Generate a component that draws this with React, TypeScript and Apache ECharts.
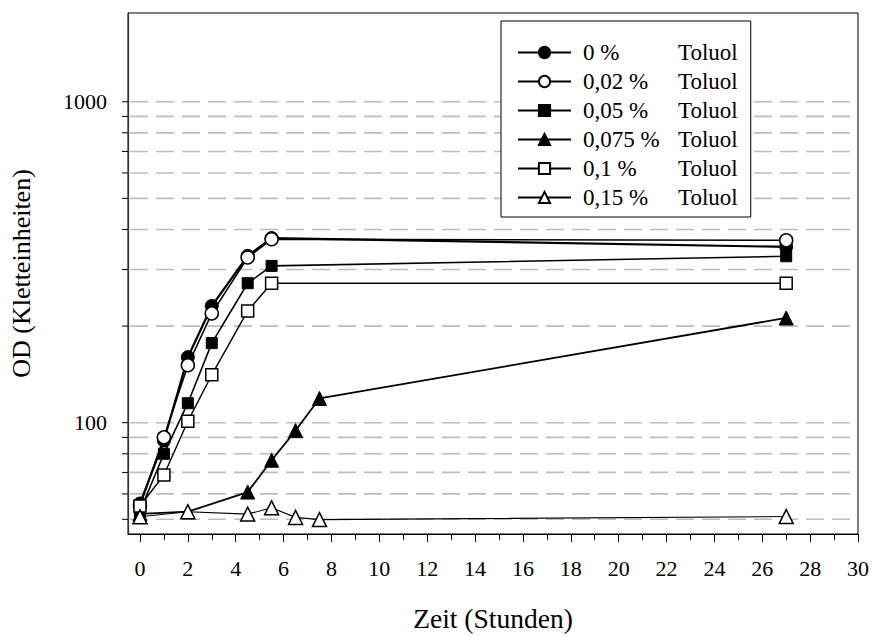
import React, { useEffect, useRef } from 'react';
import * as echarts from 'echarts';

// ---- data ----
const timesMain = [0, 1, 2, 3, 4.5, 5.5, 27];
const times075 = [0, 2, 4.5, 5.5, 6.5, 7.5, 27];
const times015 = [0, 2, 4.5, 5.5, 6.5, 7.5, 27];

const od0 = [56, 88, 160, 231, 331, 376, 353];
const od002 = [55, 90, 151, 219, 327, 373, 370];
const od005 = [53, 80, 115, 177, 272, 308, 330];
const od0075 = [52, 52.8, 60.8, 76.4, 94.5, 119, 212];
const od01 = [55, 68.7, 101, 141, 223, 272, 272];
const od015 = [50.9, 52.8, 51.9, 54.3, 50.7, 49.9, 51];

const seriesNames = ['0 %', '0,02 %', '0,05 %', '0,075 %', '0,1 %', '0,15 %'];
const substance = 'Toluol';
const xMajorTicks = [0, 2, 4, 6, 8, 10, 12, 14, 16, 18, 20, 22, 24, 26, 28, 30];
const xMinorTicks = [1, 3, 5, 7, 9, 11, 13, 15, 17, 19, 21, 23, 25, 27, 29];
const yLabelValues = [100, 1000];
const yGridValues = [50, 60, 70, 80, 90, 100, 200, 300, 400, 500, 600, 700, 800, 900, 1000];

const FONT = 'Liberation Serif';

function pairs(xs: number[], ys: number[]) {
  return xs.map((x, i) => [x, ys[i]]);
}

export default function App() {
  const ref = useRef<HTMLDivElement>(null);

  useEffect(() => {
    if (!ref.current) return;
    const chart = echarts.init(ref.current, undefined, { renderer: 'svg' });

    const filled = { color: '#000', borderColor: '#000', borderWidth: 1 };
    const open = { color: '#fff', borderColor: '#000', borderWidth: 1.5 };

    const mk = (name: string, data: number[][], symbol: string, size: number, item: any, lw: number, z: number) => ({
      type: 'line',
      name,
      data,
      symbol,
      symbolSize: size,
      showAllSymbol: true,
      lineStyle: { color: '#000', width: lw },
      itemStyle: item,
      emphasis: { disabled: true },
      z,
    });

    const option: any = {
      animation: false,
      backgroundColor: '#fff',
      textStyle: { fontFamily: FONT },
      grid: {
        left: 127,
        top: 13,
        right: 14,
        bottom: 96,
        show: true,
        borderColor: '#000',
        borderWidth: 1,
        backgroundColor: 'transparent',
      },
      legend: {
        orient: 'vertical',
        left: 501,
        top: 21,
        padding: [20, 13, 8, 16],
        itemWidth: 53,
        itemHeight: 14,
        itemGap: 6,
        borderColor: '#000',
        borderWidth: 1,
        borderRadius: 0,
        backgroundColor: '#fff',
        selectedMode: false,
        data: seriesNames,
        formatter: (name: string) => `{s| }{a|${name}}{b|${substance}}`,
        textStyle: {
          fontFamily: FONT,
          fontSize: 23,
          color: '#000',
          rich: {
            s: { width: 7, fontFamily: FONT, fontSize: 23 },
            a: { width: 95, fontFamily: FONT, fontSize: 23 },
            b: { width: 62, fontFamily: FONT, fontSize: 23 },
          },
        },
      },
      xAxis: [
        {
          type: 'value',
          min: -0.5,
          max: 30,
          position: 'bottom',
          axisLine: { show: true, onZero: false, lineStyle: { color: '#000', width: 1 } },
          axisTick: { show: true, length: 8, inside: false, customValues: xMajorTicks, lineStyle: { color: '#000', width: 1 } },
          axisLabel: { customValues: xMajorTicks, fontFamily: FONT, fontSize: 22, color: '#000', margin: 23 },
          splitLine: { show: false },
          name: 'Zeit (Stunden)',
          nameLocation: 'middle',
          nameGap: 70,
          nameTextStyle: { fontFamily: FONT, fontSize: 27.5, color: '#000' },
        },
        {
          type: 'value',
          min: -0.5,
          max: 30,
          position: 'bottom',
          axisLine: { show: false, onZero: false },
          axisTick: { show: true, length: 6, inside: false, customValues: xMinorTicks, lineStyle: { color: '#000', width: 1 } },
          axisLabel: { show: false },
          splitLine: { show: false },
        },
      ],
      yAxis: {
        type: 'log',
        logBase: 10,
        min: 45,
        max: 1890,
        axisLine: { show: true, onZero: false, lineStyle: { color: '#333', width: 1.2 } },
        axisTick: { show: false },
        minorTick: { show: false },
        splitLine: { show: false },
        axisLabel: {
          fontFamily: FONT,
          fontSize: 22,
          color: '#000',
          margin: 21,
          showMinLabel: false,
          showMaxLabel: false,
          formatter: (v: number) => {
            const r = Math.round(v);
            return yLabelValues.indexOf(r) >= 0 ? String(r) : '';
          },
        },
        name: 'OD (Kletteinheiten)',
        nameLocation: 'middle',
        nameGap: 94,
        nameTextStyle: { fontFamily: FONT, fontSize: 26, color: '#000' },
      },
      series: [
        {
          type: 'custom',
          name: 'gridlines',
          coordinateSystem: 'cartesian2d',
          xAxisIndex: 0,
          yAxisIndex: 0,
          data: yGridValues.map((v) => [0, v]),
          encode: { x: 0, y: 1 },
          clip: false,
          silent: true,
          z: 1,
          renderItem: (params: any, api: any) => {
            const cs = params.coordSys;
            const y = api.coord([0, api.value(1)])[1];
            return {
              type: 'group',
              children: [
                {
                  type: 'line',
                  shape: { x1: cs.x + 2, y1: y, x2: cs.x + cs.width, y2: y },
                  style: { stroke: '#bdbdbd', lineWidth: 1.6, lineDash: [18, 8] },
                },
                {
                  type: 'line',
                  shape: { x1: cs.x - 6, y1: y, x2: cs.x, y2: y },
                  style: { stroke: '#000', lineWidth: 1 },
                },
              ],
            };
          },
        },
        mk(seriesNames[0], pairs(timesMain, od0), 'circle', 13, filled, 2.2, 3),
        mk(seriesNames[1], pairs(timesMain, od002), 'circle', 13, open, 1.6, 3),
        mk(seriesNames[2], pairs(timesMain, od005), 'rect', 11, filled, 1.6, 3),
        mk(seriesNames[3], pairs(times075, od0075), 'triangle', 14, filled, 1.8, 3),
        mk(seriesNames[4], pairs(timesMain, od01), 'rect', 12, open, 1.4, 3),
        mk(seriesNames[5], pairs(times015, od015), 'triangle', 14, open, 1.1, 3),
      ],
    };

    chart.setOption(option);
    return () => chart.dispose();
  }, []);

  return (
    <div
      ref={ref}
      style={{ position: 'fixed', left: 0, top: 0, width: 872, height: 637, background: '#fff' }}
    />
  );
}
